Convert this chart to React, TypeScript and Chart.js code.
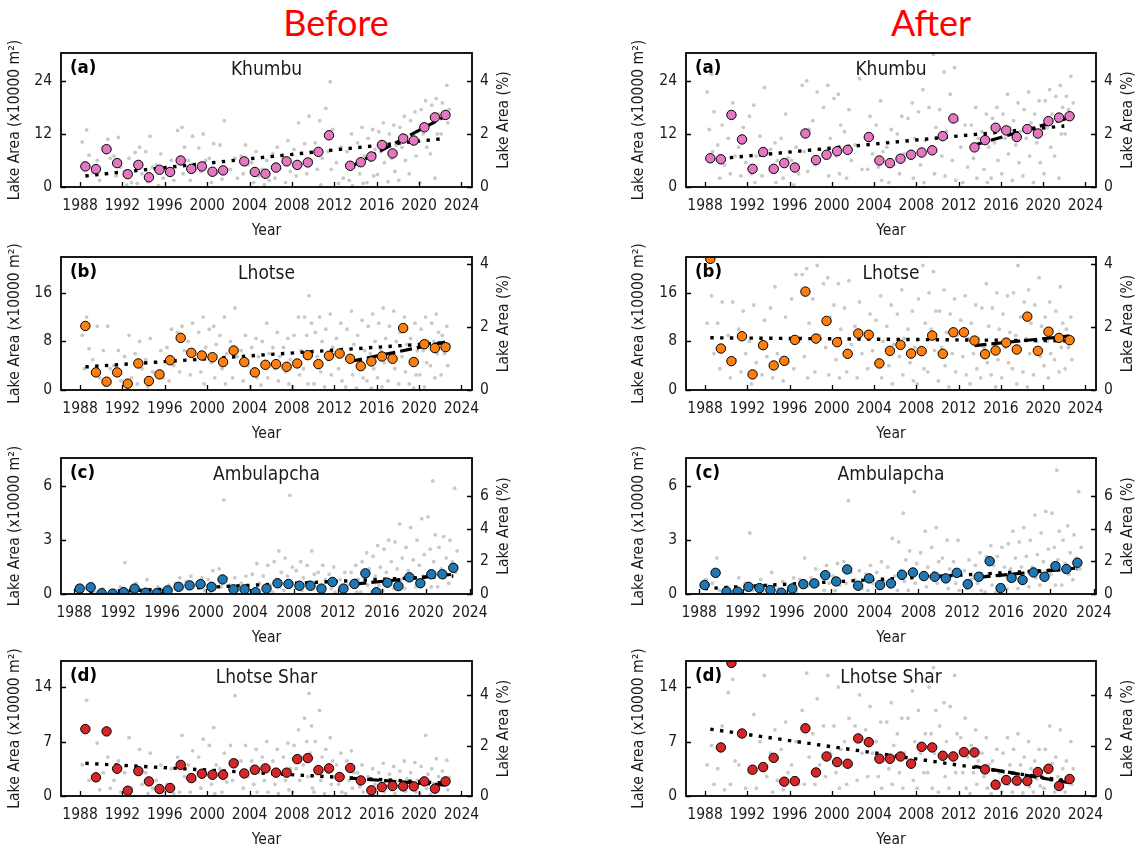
import React, { useEffect, useRef } from "react";
import { Chart, registerables } from "chart.js";

Chart.register(...registerables);

const FONT = "'DejaVu Sans Condensed', 'DejaVu Sans', sans-serif";

// ---------- data ----------
const years = [1988, 1989, 1990, 1991, 1992, 1993, 1994, 1995, 1996, 1997, 1998, 1999, 2000, 2001, 2002, 2003, 2004, 2005, 2006, 2007, 2008, 2009, 2010, 2011, 2012, 2013, 2014, 2015, 2016, 2017, 2018, 2019, 2020, 2021, 2022];
const xTickLabels = [1988, 1992, 1996, 2000, 2004, 2008, 2012, 2016, 2020, 2024];
// fraction of the year at which each scene of a year was taken
const sceneTimes = [0.62, 0.2, 0.85, 0.4, 0.72, 0.08, 0.5, 0.95];

// annual means (x10000 m2), null = no data
const khumbuBefore = [4.65, 4.05, 8.55, 5.4, 2.9, 5.0, 2.2, 3.9, 3.4, 6.0, 4.1, 4.65, 3.45, 3.75, null, 5.8, 3.4, 3.0, 4.4, 5.8, 5.0, 5.55, 7.95, 11.7, null, 4.8, 5.6, 6.9, 9.5, 7.6, 10.95, 10.5, 13.5, 15.75, 16.3];
const khumbuAfter = [6.5, 6.27, 16.3, 10.75, 4.1, 7.9, 4.1, 5.4, 4.4, 12.1, 6.1, 7.3, 8.1, 8.4, null, 11.3, 6.0, 5.4, 6.4, 7.3, 7.8, 8.3, 11.5, 15.5, null, 8.95, 10.6, 13.4, 12.8, 11.3, 13.1, 12.1, 14.9, 15.7, 16.0];
const lhotseBefore = [10.55, 2.9, 1.37, 2.9, 1.04, 4.37, 1.48, 2.57, 4.9, 8.58, 6.12, 5.68, 5.4, 4.6, 6.5, 4.6, 2.9, 4.15, 4.26, 3.83, 4.37, 5.74, 4.26, 5.63, 6.0, 5.14, 3.93, 4.7, 5.52, 5.14, 10.2, 4.6, 7.54, 6.9, 7.05];
const lhotseAfter = [21.6, 6.83, 4.75, 8.85, 2.57, 7.38, 4.04, 4.8, 8.25, 16.2, 8.47, 11.37, 7.87, 5.96, 9.3, 9.1, 4.37, 6.45, 7.43, 6.0, 6.4, 8.96, 5.96, 9.5, 9.5, 8.14, 5.9, 6.5, 7.8, 6.67, 12.08, 6.45, 9.6, 8.58, 8.2];
const ambulapchaBefore = [0.3, 0.37, 0.04, 0.02, 0.1, 0.3, 0.07, 0.04, 0.2, 0.4, 0.48, 0.55, 0.4, 0.81, 0.26, 0.26, 0.1, 0.3, 0.6, 0.56, 0.46, 0.46, 0.3, 0.67, 0.3, 0.56, 1.15, 0.1, 0.63, 0.44, 0.93, 0.6, 1.1, 1.1, 1.46];
const ambulapchaAfter = [0.5, 1.18, 0.13, 0.13, 0.4, 0.33, 0.22, 0.07, 0.31, 0.55, 0.59, 1.05, 0.7, 1.37, 0.46, 0.87, 0.5, 0.59, 1.07, 1.2, 1.0, 0.96, 0.87, 1.18, 0.55, 0.96, 1.83, 0.33, 0.9, 0.78, 1.2, 0.96, 1.55, 1.39, 1.74];
const lhotseSharBefore = [8.6, 2.4, 8.3, 3.5, 0.68, 3.2, 1.88, 0.9, 1.03, 4.0, 2.3, 2.86, 2.73, 2.73, 4.2, 2.9, 3.38, 3.55, 3.0, 3.0, 4.74, 4.87, 3.33, 3.55, 2.44, 3.6, 2.0, 0.73, 1.15, 1.28, 1.24, 1.24, 1.88, 0.94, 1.88];
const lhotseSharAfter = [null, 6.24, 17.1, 8.03, 3.38, 3.72, 4.9, 1.84, 1.92, 8.7, 3.03, 5.08, 4.36, 4.15, 7.4, 6.92, 4.79, 4.79, 5.08, 4.15, 6.32, 6.24, 5.17, 5.08, 5.64, 5.6, 3.42, 1.45, 2.05, 1.97, 1.92, 3.08, 3.5, 1.28, 2.18];

// trend lines [x, y] end points: whole period (dotted) and 2013-2022 (dashed)
const khumbuBeforeTrend = [[1988.5, 2.5], [2022.5, 11.0]];
const khumbuBeforeRecent = [[2013.5, 4.5], [2022.5, 16.0]];
const khumbuAfterTrend = [[1988.5, 6.2], [2022.0, 13.8]];
const khumbuAfterRecent = [[2013.5, 9.5], [2022.5, 15.7]];
const lhotseBeforeTrend = [[1988.5, 3.8], [2022.5, 7.8]];
const lhotseBeforeRecent = [[2013.5, 4.7], [2022.5, 7.9]];
const lhotseAfterTrend = [[1988.5, 8.6], [2022.5, 8.1]];
const lhotseAfterRecent = [[2013.5, 7.3], [2022.5, 8.9]];
const ambulapchaBeforeTrend = [[1988.5, 0.05], [2022.5, 1.0]];
const ambulapchaBeforeRecent = [[2013.5, 0.55], [2022.5, 1.1]];
const ambulapchaAfterTrend = [[1988.5, 0.3], [2022.5, 1.4]];
const ambulapchaAfterRecent = [[2013.5, 0.93], [2022.5, 1.45]];
const lhotseSharBeforeTrend = [[1988.5, 4.2], [2022.5, 1.65]];
const lhotseSharBeforeRecent = [[2013.5, 2.3], [2022.5, 1.4]];
const lhotseSharAfterTrend = [[1988.5, 8.6], [2022.5, 1.9]];
const lhotseSharAfterRecent = [[2013.5, 3.8], [2022.5, 1.7]];

// individual scenes (x10000 m2), one row per year 1988..2022
const khumbuBeforeScenes = [
  [12.9, 10.2, 7.2, 5.5], [6.0, 3.2, 1.5], [10.8, 9.0, 6.5, 3.0], [11.2, 7.0, 4.5, 2.5], [6.5, 3.5, 1.0, 0.5],
  [9.0, 7.8, 3.0, 0.8], [11.5, 8.0, 4.5, 1.2], [7.5, 5.0, 2.0, 0.3], [6.0, 3.0, 1.5], [13.5, 12.8, 9.0, 5.5, 3.0],
  [11.5, 6.0, 4.0, 1.5], [12.0, 8.8, 6.0, 3.5], [9.8, 6.5, 3.0, 1.0], [15.0, 9.5, 4.0, 1.8], [6.5, 4.0, 2.0],
  [9.5, 7.0, 5.0, 3.0], [8.0, 5.5, 2.5, 1.0], [6.0, 4.0, 1.5, 0.5], [9.0, 7.5, 4.0, 2.0], [10.5, 6.5, 3.5, 1.0],
  [14.5, 8.5, 5.0, 2.5], [16.0, 9.8, 6.0, 3.0], [15.0, 10.0, 6.5, 4.0, 0.5], [23.8, 17.8, 13.0, 8.0, 4.0], [9.0, 5.5, 2.0, 0.8],
  [12.0, 8.0, 4.5, 1.5, 0.3], [13.5, 10.0, 7.0, 3.0, 0.8], [13.0, 11.0, 8.5, 6.0, 2.5, 1.0], [14.5, 12.5, 10.0, 8.0, 5.5, 2.8], [14.0, 12.0, 9.5, 6.5, 3.5, 1.2],
  [16.0, 13.5, 11.5, 9.0, 6.0, 1.5], [17.0, 15.0, 12.5, 10.0, 7.0, 3.0], [19.5, 17.5, 14.0, 12.0, 9.0, 1.0], [20.0, 18.5, 16.5, 14.5, 12.0, 7.5, 2.0], [23.0, 19.0, 17.5, 16.0, 14.5, 12.0],
];
const khumbuAfterScenes = [
  [25.5, 21.5, 17.0, 13.0, 8.0], [14.0, 9.5, 5.0, 2.0], [19.0, 11.0, 7.0, 3.0], [13.5, 9.0, 5.5, 2.5], [18.5, 16.0, 7.0, 3.0, 1.0],
  [22.5, 11.5, 7.5, 2.5], [10.0, 8.5, 6.0, 3.5, 1.0], [16.5, 11.0, 6.5, 2.0], [9.0, 6.0, 3.0, 0.5], [24.0, 23.0, 13.0, 8.0, 3.5],
  [21.5, 15.0, 8.5, 5.0], [23.0, 18.0, 11.0, 6.5, 2.5], [21.0, 20.0, 14.0, 7.0, 3.0], [17.5, 12.5, 6.0, 2.0], [24.5, 9.5, 4.0],
  [16.0, 11.0, 7.5, 4.0], [19.5, 14.0, 8.0, 4.5, 1.5], [13.0, 9.0, 5.0, 1.0], [16.0, 12.0, 7.5, 3.0], [19.0, 15.5, 11.0, 6.5, 2.0],
  [22.0, 17.0, 10.5, 5.0, 1.0], [30.0, 18.0, 13.5, 8.5, 3.0], [26.0, 17.5, 12.5, 7.0, 2.5], [27.0, 21.0, 15.0, 6.0, 1.5], [14.0, 9.0, 4.5, 1.0],
  [18.0, 14.0, 11.0, 6.5, 2.0], [16.5, 12.5, 9.0, 4.0, 1.0], [18.0, 15.5, 13.0, 10.0, 6.0, 2.0], [21.0, 16.5, 13.5, 11.0, 7.5, 3.0], [19.0, 15.0, 12.5, 9.5, 5.5, 1.5],
  [21.5, 17.5, 14.5, 11.0, 7.0, 2.5], [19.5, 16.5, 13.0, 10.0, 5.5, 1.0], [22.0, 19.5, 16.5, 13.5, 9.0, 3.0], [23.0, 20.5, 18.0, 15.5, 12.0, 7.0, 2.0], [25.0, 20.5, 19.0, 17.5, 15.5, 12.0],
];
const lhotseBeforeScenes = [
  [12.0, 9.0, 6.8, 3.5], [10.5, 5.0, 2.0], [10.5, 6.5, 3.5, 0.8], [6.5, 4.0, 1.5], [9.0, 5.5, 2.0, 0.5],
  [8.0, 6.0, 3.5, 1.0], [8.5, 5.0, 3.0, 0.5], [6.5, 4.5, 2.0], [10.0, 7.0, 4.0, 1.5], [10.5, 9.5, 6.5, 3.0],
  [11.0, 8.0, 5.0, 2.5], [12.0, 9.5, 7.0, 3.0, 1.0], [10.5, 10.0, 7.5, 4.5, 2.0], [12.0, 9.0, 6.0, 3.5, 1.0], [13.5, 8.0, 5.5, 2.0],
  [9.0, 6.5, 4.0, 1.5], [8.5, 7.0, 5.5, 3.5, 2.0, 0.5], [11.0, 8.0, 6.0, 4.0, 2.0, 0.8], [9.5, 7.0, 5.5, 3.5, 1.5], [8.5, 7.0, 5.0, 3.0, 1.0],
  [12.0, 9.0, 6.5, 4.0, 2.5, 0.5], [15.5, 12.0, 11.0, 9.0, 6.0, 3.5, 1.0], [12.0, 9.5, 8.0, 5.5, 3.0, 1.0], [12.5, 10.0, 7.0, 5.0, 2.5, 0.5], [11.0, 8.5, 6.0, 3.5, 1.5],
  [13.0, 10.0, 7.5, 5.0, 2.5, 0.5], [11.5, 9.0, 6.5, 4.0, 2.0, 0.3], [12.5, 10.5, 8.0, 6.0, 3.5, 1.5, 0.3], [13.5, 11.0, 8.5, 6.5, 4.5, 2.0, 0.5], [13.0, 10.5, 8.0, 5.5, 3.5, 1.5],
  [12.0, 9.5, 7.5, 5.5, 3.0, 1.0], [11.0, 8.5, 6.5, 4.5, 2.5, 1.0, 0.3], [12.0, 10.0, 8.0, 6.5, 4.5, 2.5, 0.5], [12.5, 11.0, 9.5, 8.0, 6.0, 4.0, 2.0], [10.5, 9.0, 7.5, 6.0, 4.0, 2.5],
];
const lhotseAfterScenes = [
  [15.5, 11.0, 6.0], [14.5, 11.0, 7.0, 3.5], [14.5, 9.0, 5.0, 2.0], [13.0, 10.0, 6.0, 3.0], [14.0, 8.0, 4.5, 1.0],
  [11.5, 7.0, 5.5, 2.5], [17.0, 13.5, 6.0, 2.0], [12.0, 8.5, 4.5, 1.5], [19.0, 15.0, 8.0, 3.5], [20.0, 19.0, 11.0, 5.5, 2.0],
  [20.5, 15.0, 9.0, 3.0], [18.5, 17.5, 12.0, 7.0, 2.5], [17.5, 14.0, 10.0, 5.0, 2.0], [18.0, 13.5, 7.5, 3.0], [14.5, 10.5, 6.0, 2.0],
  [12.5, 9.5, 6.5, 3.5], [15.5, 11.5, 8.0, 5.0, 2.0], [14.0, 10.5, 7.5, 4.0, 1.0], [16.5, 12.5, 8.5, 5.5, 2.5], [13.0, 10.0, 7.0, 4.5, 1.5],
  [20.5, 15.0, 11.0, 7.0, 3.5, 1.0], [19.5, 16.0, 13.0, 10.0, 6.5, 3.0], [16.5, 13.0, 9.5, 7.0, 4.0, 1.5], [15.0, 12.5, 9.0, 6.0, 3.0, 0.5], [15.5, 11.5, 8.5, 5.5, 2.5],
  [14.0, 11.0, 8.5, 6.0, 3.5, 1.0], [17.5, 13.5, 10.5, 7.0, 4.5, 2.0], [16.0, 13.5, 10.0, 7.5, 5.0, 2.5, 0.5], [15.5, 12.5, 9.5, 7.0, 4.5, 2.0], [20.5, 16.0, 12.0, 9.0, 6.5, 3.5, 1.0],
  [16.5, 14.5, 11.0, 8.5, 6.0, 3.0, 0.5], [18.5, 14.0, 10.5, 8.0, 5.5, 2.5], [14.5, 12.0, 10.0, 8.0, 6.0, 4.0, 2.0], [17.0, 13.0, 11.0, 9.0, 7.0, 5.0, 3.0], [12.0, 10.0, 8.5, 7.0, 5.0, 3.5],
];
const ambulapchaBeforeScenes = [
  [0.5, 0.2], [0.6, 0.3, 0.1], [0.3, 0.1], [0.2, 0.05], [1.75, 0.4, 0.1],
  [0.6, 0.3], [0.8, 0.2], [0.4, 0.1], [0.5, 0.2], [0.9, 0.6, 0.3],
  [1.0, 0.7, 0.4], [0.9, 0.5, 0.2], [1.3, 0.8, 0.4, 0.1], [5.25, 1.4, 0.9, 0.4], [0.9, 0.5, 0.2],
  [1.0, 0.6, 0.3, 0.1], [1.7, 1.1, 0.6, 0.2], [1.6, 1.0, 0.5, 0.2], [2.4, 1.8, 1.2, 0.8, 0.4, 0.1], [5.5, 2.0, 1.5, 1.0, 0.6, 0.2],
  [1.8, 1.3, 0.9, 0.5, 0.2], [2.4, 1.6, 1.1, 0.7, 0.3], [1.6, 1.2, 0.8, 0.4, 0.1], [1.5, 1.1, 0.7, 0.3, 0.1], [1.2, 0.8, 0.5, 0.2],
  [1.6, 1.2, 0.8, 0.4, 0.1], [2.3, 1.8, 1.4, 0.9, 0.5, 0.1], [2.7, 2.1, 1.5, 1.0, 0.5, 0.1], [3.0, 2.5, 1.8, 1.2, 0.7, 0.2], [3.9, 2.9, 2.0, 1.4, 0.8, 0.3],
  [3.7, 2.6, 1.9, 1.3, 0.8, 0.3], [4.2, 3.0, 2.2, 1.6, 1.0, 0.4], [6.3, 4.3, 3.3, 2.5, 1.8, 1.0, 0.4], [3.2, 2.6, 2.0, 1.4, 0.9, 0.4], [5.9, 3.0, 2.4, 1.8, 1.2, 0.6],
];
const ambulapchaAfterScenes = [
  [0.8, 0.4], [2.0, 0.6, 0.2], [0.4, 0.1], [0.9, 0.2], [3.4, 0.6, 0.2],
  [0.8, 0.4, 0.1], [1.2, 0.5, 0.2], [0.7, 0.3], [0.9, 0.4, 0.1], [2.0, 0.8, 0.4],
  [1.4, 0.9, 0.5], [1.6, 1.1, 0.6, 0.2], [1.7, 1.0, 0.5, 0.2], [5.2, 1.8, 1.2, 0.6], [1.3, 0.8, 0.3],
  [1.6, 1.1, 0.6, 0.2], [1.8, 1.2, 0.7, 0.3], [3.1, 1.5, 1.0, 0.4], [4.5, 2.9, 1.9, 1.3, 0.7, 0.2], [5.7, 2.4, 1.7, 1.1, 0.6, 0.2],
  [3.5, 2.3, 1.5, 1.0, 0.4], [3.7, 2.6, 1.8, 1.2, 0.6], [3.0, 2.0, 1.4, 0.9, 0.3], [3.0, 1.8, 1.2, 0.6, 0.2], [1.9, 1.3, 0.8, 0.3],
  [2.3, 1.6, 1.1, 0.6, 0.2], [2.7, 2.1, 1.6, 1.1, 0.5, 0.1], [2.6, 2.1, 1.5, 1.0, 0.5, 0.1], [3.5, 2.8, 2.0, 1.4, 0.8, 0.3], [3.7, 2.9, 2.1, 1.5, 0.9, 0.3],
  [4.4, 3.0, 2.2, 1.5, 0.9, 0.4], [4.6, 3.4, 2.5, 1.8, 1.1, 0.5], [6.9, 4.5, 3.5, 2.6, 1.9, 1.1, 0.5], [3.8, 3.0, 2.3, 1.7, 1.1, 0.5], [5.7, 3.3, 2.6, 2.0, 1.4, 0.8],
];
const lhotseSharBeforeScenes = [
  [12.3, 4.0, 2.0], [6.8, 2.5, 0.8], [5.0, 3.0, 1.0], [4.5, 2.0, 0.5], [7.5, 3.0, 1.0],
  [6.0, 3.5, 1.5], [5.5, 3.0, 1.0, 0.3], [4.0, 2.0, 0.5], [3.5, 1.5, 0.3], [7.8, 5.0, 2.5, 0.5],
  [5.8, 4.0, 2.0, 0.5], [7.3, 5.0, 3.0, 1.0], [8.8, 6.5, 4.0, 1.5, 0.3], [5.5, 3.5, 1.8, 0.5], [12.9, 6.5, 4.5, 2.0],
  [6.5, 4.5, 2.5, 1.0], [6.0, 4.5, 3.0, 1.5, 0.5], [7.0, 5.0, 3.5, 2.0, 0.5], [6.0, 4.5, 3.0, 1.5, 0.3], [6.8, 5.0, 3.5, 2.0, 0.8],
  [8.5, 6.5, 5.0, 3.5, 2.0, 0.5], [13.2, 10.0, 9.0, 7.0, 5.5, 4.0, 2.5, 1.0], [11.0, 7.0, 5.0, 3.5, 2.0, 0.5], [7.5, 6.0, 4.5, 3.0, 1.5, 0.3], [5.5, 4.0, 2.5, 1.5, 0.5],
  [5.8, 4.5, 3.0, 2.0, 1.0, 0.3], [4.0, 3.0, 2.0, 1.2, 0.5], [3.5, 2.5, 1.5, 0.8, 0.2], [4.2, 3.0, 2.0, 1.2, 0.5], [3.8, 2.8, 1.8, 1.0, 0.3],
  [4.5, 3.2, 2.2, 1.3, 0.6], [4.3, 3.0, 2.0, 1.2, 0.5], [7.8, 3.8, 2.8, 1.8, 1.0, 0.3], [4.8, 3.5, 2.5, 1.6, 0.8, 0.2], [4.6, 3.2, 2.4, 1.6, 0.8],
];
const lhotseSharAfterScenes = [
  [6.5, 4.0, 1.5], [9.0, 3.5, 0.8], [15.0, 13.3, 4.5, 1.5], [8.0, 4.0, 1.0], [10.5, 3.0, 1.0],
  [15.5, 7.0, 2.5], [8.5, 5.5, 2.0, 0.5], [9.5, 6.0, 3.0, 0.8], [7.0, 4.0, 1.5], [15.8, 11.0, 5.0, 1.5],
  [12.5, 8.0, 4.0, 1.5], [15.5, 9.0, 5.5, 2.5], [14.0, 9.0, 6.0, 3.0, 1.0], [10.0, 7.0, 4.0, 1.5], [13.0, 9.0, 5.5, 2.0],
  [11.5, 8.5, 5.5, 2.5], [9.5, 7.0, 4.5, 2.5, 1.0], [12.0, 9.5, 6.5, 3.5, 1.5], [10.0, 8.0, 5.5, 3.0, 1.0], [13.5, 10.0, 7.0, 4.5, 2.0],
  [15.0, 11.0, 8.0, 5.5, 3.0, 1.0], [16.5, 14.0, 11.0, 8.0, 5.5, 3.0, 1.0], [12.0, 9.0, 7.0, 5.0, 2.5, 0.5], [15.5, 11.5, 8.0, 5.5, 3.0, 1.0], [10.0, 7.5, 5.0, 3.0, 1.0],
  [8.5, 6.5, 4.5, 3.0, 1.5, 0.3], [7.5, 5.5, 4.0, 2.5, 1.0], [6.0, 4.5, 3.0, 2.0, 1.0, 0.3], [7.5, 5.5, 4.0, 2.5, 1.5, 0.5], [8.0, 6.0, 4.0, 2.5, 1.5, 0.5],
  [7.0, 5.0, 3.5, 2.2, 1.2, 0.4], [6.0, 4.5, 3.2, 2.2, 1.3, 0.5], [9.0, 6.0, 4.2, 3.0, 2.0, 1.0], [8.5, 5.0, 3.5, 2.5, 1.5, 0.5], [7.0, 4.5, 3.5, 2.5, 1.5, 0.5],
];

// axis tick labels
const khumbuTicks = [0, 12, 24];
const lhotseTicks = [0, 8, 16];
const ambulapchaTicks = [0, 3, 6];
const lhotseSharTicks = [0, 7, 14];
const pctTicks = [0, 2, 4];
const ambulapchaPctTicks = [0, 2, 4, 6];

// ---------- layout ----------
const ROW_TOP = [53, 257, 458, 661];
const ROW_BOTTOM = [187, 390, 594, 796];
const COLS = [
  { canvasLeft: 0, canvasWidth: 560, plotLeft: 61, plotRight: 472, leftTitle: 15 },
  { canvasLeft: 568, canvasWidth: 568, plotLeft: 686, plotRight: 1096, leftTitle: 71 },
];

type Pt = number[];
interface Spec {
  letter: string; name: string; color: string; col: number; row: number;
  annual: (number | null)[]; scenes: number[][]; trend: Pt[]; recent: Pt[];
  yTicks: number[]; yMax: number; pctTicks: number[]; pctMax: number; xMin: number; xMax: number;
}

const PINK = "#e377c2", ORANGE = "#ff7f0e", BLUE = "#1f77b4", RED = "#d62728";
const rowAxes = [
  { yTicks: khumbuTicks, yMax: 30.3, pctTicks: pctTicks, pctMax: 5.05, xMin: 1986.2, xMax: 2025 },
  { yTicks: lhotseTicks, yMax: 21.9, pctTicks: pctTicks, pctMax: 4.23, xMin: 1986.2, xMax: 2025 },
  { yTicks: ambulapchaTicks, yMax: 7.58, pctTicks: ambulapchaPctTicks, pctMax: 8.33, xMin: 1986.8, xMax: 2024.2 },
  { yTicks: lhotseSharTicks, yMax: 17.35, pctTicks: pctTicks, pctMax: 5.36, xMin: 1986.2, xMax: 2025 },
];

const specs: Spec[] = [
  { letter: "(a)", name: "Khumbu", color: PINK, col: 0, row: 0, annual: khumbuBefore, scenes: khumbuBeforeScenes, trend: khumbuBeforeTrend, recent: khumbuBeforeRecent, ...rowAxes[0] },
  { letter: "(a)", name: "Khumbu", color: PINK, col: 1, row: 0, annual: khumbuAfter, scenes: khumbuAfterScenes, trend: khumbuAfterTrend, recent: khumbuAfterRecent, ...rowAxes[0] },
  { letter: "(b)", name: "Lhotse", color: ORANGE, col: 0, row: 1, annual: lhotseBefore, scenes: lhotseBeforeScenes, trend: lhotseBeforeTrend, recent: lhotseBeforeRecent, ...rowAxes[1] },
  { letter: "(b)", name: "Lhotse", color: ORANGE, col: 1, row: 1, annual: lhotseAfter, scenes: lhotseAfterScenes, trend: lhotseAfterTrend, recent: lhotseAfterRecent, ...rowAxes[1] },
  { letter: "(c)", name: "Ambulapcha", color: BLUE, col: 0, row: 2, annual: ambulapchaBefore, scenes: ambulapchaBeforeScenes, trend: ambulapchaBeforeTrend, recent: ambulapchaBeforeRecent, ...rowAxes[2] },
  { letter: "(c)", name: "Ambulapcha", color: BLUE, col: 1, row: 2, annual: ambulapchaAfter, scenes: ambulapchaAfterScenes, trend: ambulapchaAfterTrend, recent: ambulapchaAfterRecent, ...rowAxes[2] },
  { letter: "(d)", name: "Lhotse Shar", color: RED, col: 0, row: 3, annual: lhotseSharBefore, scenes: lhotseSharBeforeScenes, trend: lhotseSharBeforeTrend, recent: lhotseSharBeforeRecent, ...rowAxes[3] },
  { letter: "(d)", name: "Lhotse Shar", color: RED, col: 1, row: 3, annual: lhotseSharAfter, scenes: lhotseSharAfterScenes, trend: lhotseSharAfterTrend, recent: lhotseSharAfterRecent, ...rowAxes[3] },
];

const TOP_PAD = 20;
const X_AXIS_H = 55;
const TXT = "#1a1a1a";
const FS = 15.5;

function Panel({ spec }: { spec: Spec }) {
  const ref = useRef<HTMLCanvasElement>(null);
  const col = COLS[spec.col];
  const T = ROW_TOP[spec.row];
  const B = ROW_BOTTOM[spec.row];
  const h = B - T + TOP_PAD + X_AXIS_H;

  useEffect(() => {
    if (!ref.current) return;
    const scenePts: { x: number; y: number }[] = [];
    spec.scenes.forEach((vals, i) => {
      vals.forEach((v, j) => scenePts.push({ x: years[i] + sceneTimes[j % sceneTimes.length], y: v }));
    });
    const annualPts: { x: number; y: number }[] = [];
    spec.annual.forEach((v, i) => {
      if (v !== null) annualPts.push({ x: years[i] + 0.5, y: v });
    });
    const toPts = (a: Pt[]) => a.map((p) => ({ x: p[0], y: p[1] }));

    const decor = {
      id: "decor",
      afterDraw(chart: any) {
        const { ctx, chartArea } = chart;
        const { left, right, top, bottom } = chartArea;
        ctx.save();
        ctx.strokeStyle = "#000";
        ctx.lineWidth = 1.8;
        ctx.strokeRect(left, top, right - left, bottom - top);
        ctx.lineWidth = 1.3;
        const tl = 5;
        ctx.beginPath();
        for (const t of chart.scales.x.ticks) {
          const px = Math.round(chart.scales.x.getPixelForValue(t.value)) + 0.5;
          ctx.moveTo(px, bottom);
          ctx.lineTo(px, bottom - tl);
        }
        for (const t of chart.scales.y.ticks) {
          const py = Math.round(chart.scales.y.getPixelForValue(t.value)) + 0.5;
          ctx.moveTo(left, py);
          ctx.lineTo(left + tl, py);
        }
        for (const t of chart.scales.y1.ticks) {
          const py = Math.round(chart.scales.y1.getPixelForValue(t.value)) + 0.5;
          ctx.moveTo(right, py);
          ctx.lineTo(right - tl, py);
        }
        ctx.stroke();
        ctx.fillStyle = "#000";
        ctx.textBaseline = "middle";
        ctx.textAlign = "left";
        ctx.font = `bold 18.5px ${FONT}`;
        ctx.fillText(spec.letter, left + 9, top + 15);
        ctx.fillStyle = TXT;
        ctx.textAlign = "center";
        ctx.font = `19px ${FONT}`;
        ctx.fillText(spec.name, (left + right) / 2, top + 17);
        ctx.translate(right + 32, (top + bottom) / 2);
        ctx.rotate(-Math.PI / 2);
        ctx.font = `${FS}px ${FONT}`;
        ctx.fillText("Lake Area (%)", 0, 0);
        ctx.restore();
      },
    };

    const tickFont = { family: FONT, size: FS };
    const chart = new Chart(ref.current, {
      type: "scatter",
      data: {
        datasets: [
          {
            data: annualPts, order: 0, clip: 0,
            pointRadius: 4.7, pointBackgroundColor: spec.color, pointBorderColor: "#000", pointBorderWidth: 1,
            backgroundColor: spec.color, borderColor: "#000",
          },
          {
            data: toPts(spec.recent), order: 1, clip: 0, showLine: true, pointRadius: 0,
            borderColor: "#000", borderWidth: 3.2, borderDash: [12, 5],
          },
          {
            data: toPts(spec.trend), order: 2, clip: 0, showLine: true, pointRadius: 0,
            borderColor: "#000", borderWidth: 3.4, borderDash: [3.4, 6.4],
          },
          {
            data: scenePts, order: 3, clip: 0,
            pointRadius: 1.9, pointBackgroundColor: "#c9c9c9", pointBorderWidth: 0, backgroundColor: "#c9c9c9",
          },
        ] as any,
      },
      options: {
        animation: false,
        responsive: false,
        maintainAspectRatio: false,
        events: [],
        layout: { padding: { top: TOP_PAD, left: 0, right: 0, bottom: 0 } },
        plugins: { legend: { display: false }, tooltip: { enabled: false }, title: { display: false } },
        scales: {
          x: {
            type: "linear", position: "bottom", min: spec.xMin, max: spec.xMax,
            afterBuildTicks: (s: any) => { s.ticks = xTickLabels.map((v) => ({ value: v })); },
            afterFit: (s: any) => { s.height = X_AXIS_H; },
            grid: { display: false, drawTicks: false }, border: { display: false },
            ticks: { color: TXT, font: tickFont, padding: 10, maxRotation: 0, autoSkip: false, callback: (v: any) => String(v) },
            title: { display: true, text: "Year", color: TXT, font: tickFont, padding: { top: 0, bottom: 2 } },
          },
          y: {
            type: "linear", position: "left", min: 0, max: spec.yMax,
            afterBuildTicks: (s: any) => { s.ticks = spec.yTicks.map((v) => ({ value: v })); },
            afterFit: (s: any) => { s.width = col.plotLeft - col.canvasLeft; },
            grid: { display: false, drawTicks: false }, border: { display: false },
            ticks: { color: TXT, font: tickFont, padding: 9, callback: (v: any) => String(v) },
            title: { display: true, text: "Lake Area (x10000 m²)", color: TXT, font: tickFont, padding: { top: col.leftTitle - 9.3, bottom: 0 } },
          },
          y1: {
            type: "linear", position: "right", min: 0, max: spec.pctMax,
            afterBuildTicks: (s: any) => { s.ticks = spec.pctTicks.map((v) => ({ value: v })); },
            afterFit: (s: any) => { s.width = col.canvasLeft + col.canvasWidth - col.plotRight; },
            grid: { display: false, drawTicks: false }, border: { display: false },
            ticks: { color: TXT, font: tickFont, padding: 8, callback: (v: any) => String(v) },
            title: { display: false },
          },
        },
      } as any,
      plugins: [decor],
    });
    return () => chart.destroy();
  }, []);

  return (
    <canvas
      ref={ref}
      width={col.canvasWidth}
      height={h}
      style={{ position: "absolute", left: col.canvasLeft, top: T - TOP_PAD, width: col.canvasWidth, height: h }}
    />
  );
}

const headStyle = (center: number): React.CSSProperties => ({
  position: "absolute", left: center, top: 4, transform: "translateX(-50%)",
  fontFamily: "Lato, 'Open Sans', sans-serif", fontSize: 36, lineHeight: "36px", color: "#ff0000", whiteSpace: "nowrap",
});

export default function App() {
  return (
    <div style={{ position: "absolute", left: 0, top: 0, width: 1136, height: 846, background: "#fff", overflow: "hidden" }}>
      <div style={headStyle(336)}>Before</div>
      <div style={headStyle(931)}>After</div>
      {specs.map((s, i) => (
        <Panel key={i} spec={s} />
      ))}
    </div>
  );
}
